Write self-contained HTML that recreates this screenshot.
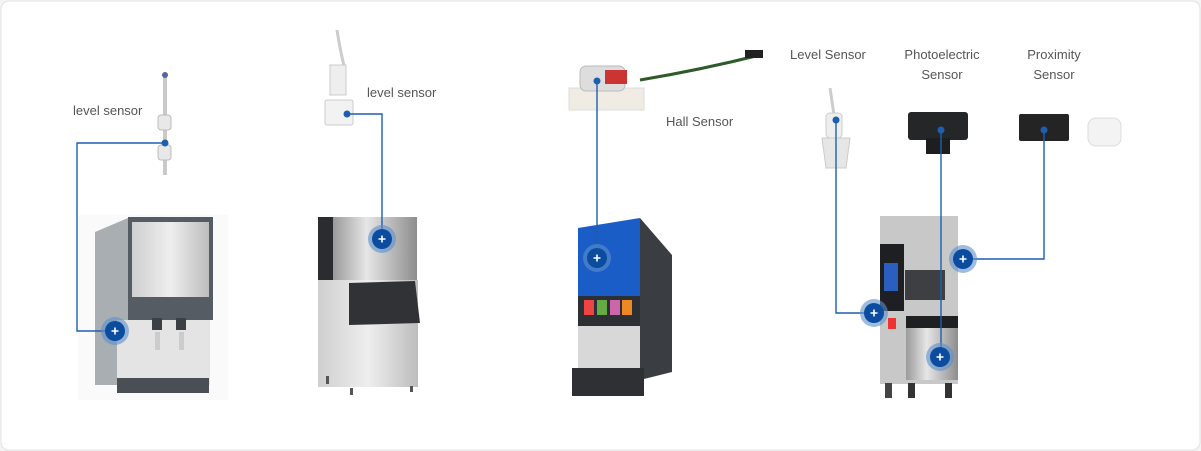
<!DOCTYPE html>
<html><head><meta charset="utf-8"><style>
body{margin:0;background:#f4f4f4;}
svg{display:block;font-family:"Liberation Sans",sans-serif;}
</style></head><body>
<svg width="1201" height="451" viewBox="0 0 1201 451">
<defs>
<linearGradient id="steel" x1="0" x2="1"><stop offset="0" stop-color="#9a9a9a"/><stop offset=".4" stop-color="#e6e6e6"/><stop offset="1" stop-color="#8d8d8d"/></linearGradient>
<linearGradient id="steel2" x1="0" x2="1"><stop offset="0" stop-color="#cfcfcf"/><stop offset=".5" stop-color="#eeeeee"/><stop offset="1" stop-color="#bdbdbd"/></linearGradient>
<g id="mk"><circle r="14" fill="#5d8fcb" opacity=".6"/><circle r="10" fill="#0b4c9e"/><path d="M-3.5 0H3.5M0 -3.5V3.5" stroke="#fff" stroke-width="1.6"/></g>
</defs>
<rect x="1" y="1" width="1199" height="449" rx="8" fill="#fff" stroke="#e3e3e3"/>

<!-- machine 1: ice dispenser -->
<rect x="78" y="215" width="150" height="185" fill="#fafafa"/>
<path d="M95 232 L128 218 L128 385 L95 385Z" fill="#a9aeb3"/>
<rect x="128" y="217" width="85" height="103" fill="#565c63"/>
<rect x="132" y="222" width="77" height="75" fill="url(#steel2)"/>
<rect x="117" y="320" width="93" height="65" fill="#e4e4e4"/>
<rect x="152" y="318" width="10" height="12" fill="#3c3f44"/><rect x="176" y="318" width="10" height="12" fill="#3c3f44"/>
<rect x="155" y="332" width="5" height="18" fill="#ccc"/><rect x="179" y="332" width="5" height="18" fill="#ccc"/>
<rect x="117" y="378" width="92" height="15" fill="#4a4f55"/>

<!-- machine 2: ice maker -->
<rect x="318" y="217" width="16" height="63" fill="#2a2c2f"/>
<rect x="333" y="217" width="84" height="63" fill="url(#steel)"/>
<rect x="318" y="280" width="100" height="107" fill="url(#steel2)"/>
<path d="M349 283 L415 281 L420 323 L349 325Z" fill="#303235"/>
<rect x="326" y="376" width="3" height="8" fill="#555"/><rect x="410" y="386" width="3" height="6" fill="#555"/><rect x="350" y="388" width="3" height="7" fill="#555"/>

<!-- machine 3: soda -->
<path d="M578 228 L640 218 L640 300 L578 300Z" fill="#1b5dc7"/>
<path d="M640 218 L672 255 L672 372 L640 380Z" fill="#3a3d42"/>
<rect x="578" y="296" width="62" height="30" fill="#2c2f33"/>
<rect x="584" y="300" width="10" height="15" fill="#e44"/><rect x="597" y="300" width="10" height="15" fill="#6a4"/><rect x="610" y="300" width="10" height="15" fill="#c6a"/><rect x="622" y="300" width="10" height="15" fill="#e82"/>
<rect x="578" y="326" width="62" height="42" fill="#d8d8d8"/>
<rect x="572" y="368" width="72" height="28" fill="#2e3034"/>

<!-- machine 4: coffee -->
<rect x="880" y="216" width="78" height="168" fill="#c8c8c8"/>
<rect x="880" y="244" width="24" height="67" fill="#1e1f22"/>
<rect x="884" y="263" width="14" height="28" fill="#2a5fc0"/>
<rect x="905" y="270" width="40" height="30" fill="#3e3f42"/>
<rect x="906" y="316" width="52" height="12" fill="#1f2022"/>
<rect x="906" y="328" width="52" height="52" fill="url(#steel)"/>
<rect x="888" y="318" width="8" height="11" fill="#e33"/>
<rect x="885" y="383" width="7" height="15" fill="#444"/><rect x="908" y="383" width="7" height="15" fill="#333"/><rect x="945" y="383" width="7" height="15" fill="#333"/>

<!-- sensors -->
<g fill="#c9c9c9">
<rect x="163" y="75" width="4" height="100"/>
<rect x="158" y="115" width="13" height="15" rx="3" fill="#e8e8e8" stroke="#bbb"/>
<rect x="158" y="145" width="13" height="15" rx="3" fill="#e8e8e8" stroke="#bbb"/>
<circle cx="165" cy="75" r="3" fill="#5565a8"/>
</g>
<path d="M337 30 Q340 50 345 70" stroke="#ccc" stroke-width="3" fill="none"/>
<rect x="330" y="65" width="16" height="30" fill="#eee" stroke="#ccc"/>
<rect x="325" y="100" width="28" height="25" rx="2" fill="#f2f2f2" stroke="#ccc"/>
<path d="M640 80 Q700 70 760 55" stroke="#2f5a2a" stroke-width="3" fill="none"/>
<rect x="745" y="50" width="18" height="8" fill="#222"/>
<rect x="569" y="88" width="75" height="22" fill="#f1ece3" stroke="#ddd"/>
<rect x="580" y="66" width="45" height="25" rx="6" fill="#ddd" stroke="#bbb"/>
<rect x="605" y="70" width="22" height="14" fill="#c33"/>
<path d="M830 88 L834 115" stroke="#ccc" stroke-width="3" fill="none"/>
<rect x="826" y="113" width="16" height="25" rx="4" fill="#eee" stroke="#ccc"/>
<path d="M822 138 h28 l-4 30 h-20z" fill="#e6e6e6" stroke="#ccc"/>
<rect x="908" y="112" width="60" height="28" rx="3" fill="#252628"/>
<rect x="926" y="138" width="24" height="16" fill="#1d1e20"/>
<rect x="1019" y="114" width="50" height="27" rx="2" fill="#242424"/>
<rect x="1088" y="118" width="33" height="28" rx="8" fill="#f3f3f3" stroke="#ddd"/>

<!-- connectors -->
<g stroke="#1d5fae" stroke-width="1.4" fill="none">
<path d="M165 143 H77 V331 H115"/>
<path d="M347 114 H382 V239"/>
<path d="M597 81 V258"/>
<path d="M836 120 V313 H874"/>
<path d="M941 130 V357"/>
<path d="M1044 130 V259 H963"/>
</g>
<g fill="#1d5fae"><circle cx="165" cy="143" r="3.5"/><circle cx="347" cy="114" r="3.5"/><circle cx="597" cy="81" r="3.5"/><circle cx="836" cy="120" r="3.5"/><circle cx="941" cy="130" r="3.5"/><circle cx="1044" cy="130" r="3.5"/></g>
<use href="#mk" x="115" y="331"/><use href="#mk" x="382" y="239"/><use href="#mk" x="597" y="258"/>
<use href="#mk" x="874" y="313"/><use href="#mk" x="940" y="357"/><use href="#mk" x="963" y="259"/>

<g fill="#555" font-size="13">
<text x="73" y="115">level sensor</text>
<text x="367" y="97">level sensor</text>
<text x="666" y="126">Hall Sensor</text>
<text x="790" y="59">Level Sensor</text>
<text x="942" y="59" text-anchor="middle">Photoelectric</text>
<text x="942" y="79" text-anchor="middle">Sensor</text>
<text x="1054" y="59" text-anchor="middle">Proximity</text>
<text x="1054" y="79" text-anchor="middle">Sensor</text>
</g>
</svg>
</body></html>
